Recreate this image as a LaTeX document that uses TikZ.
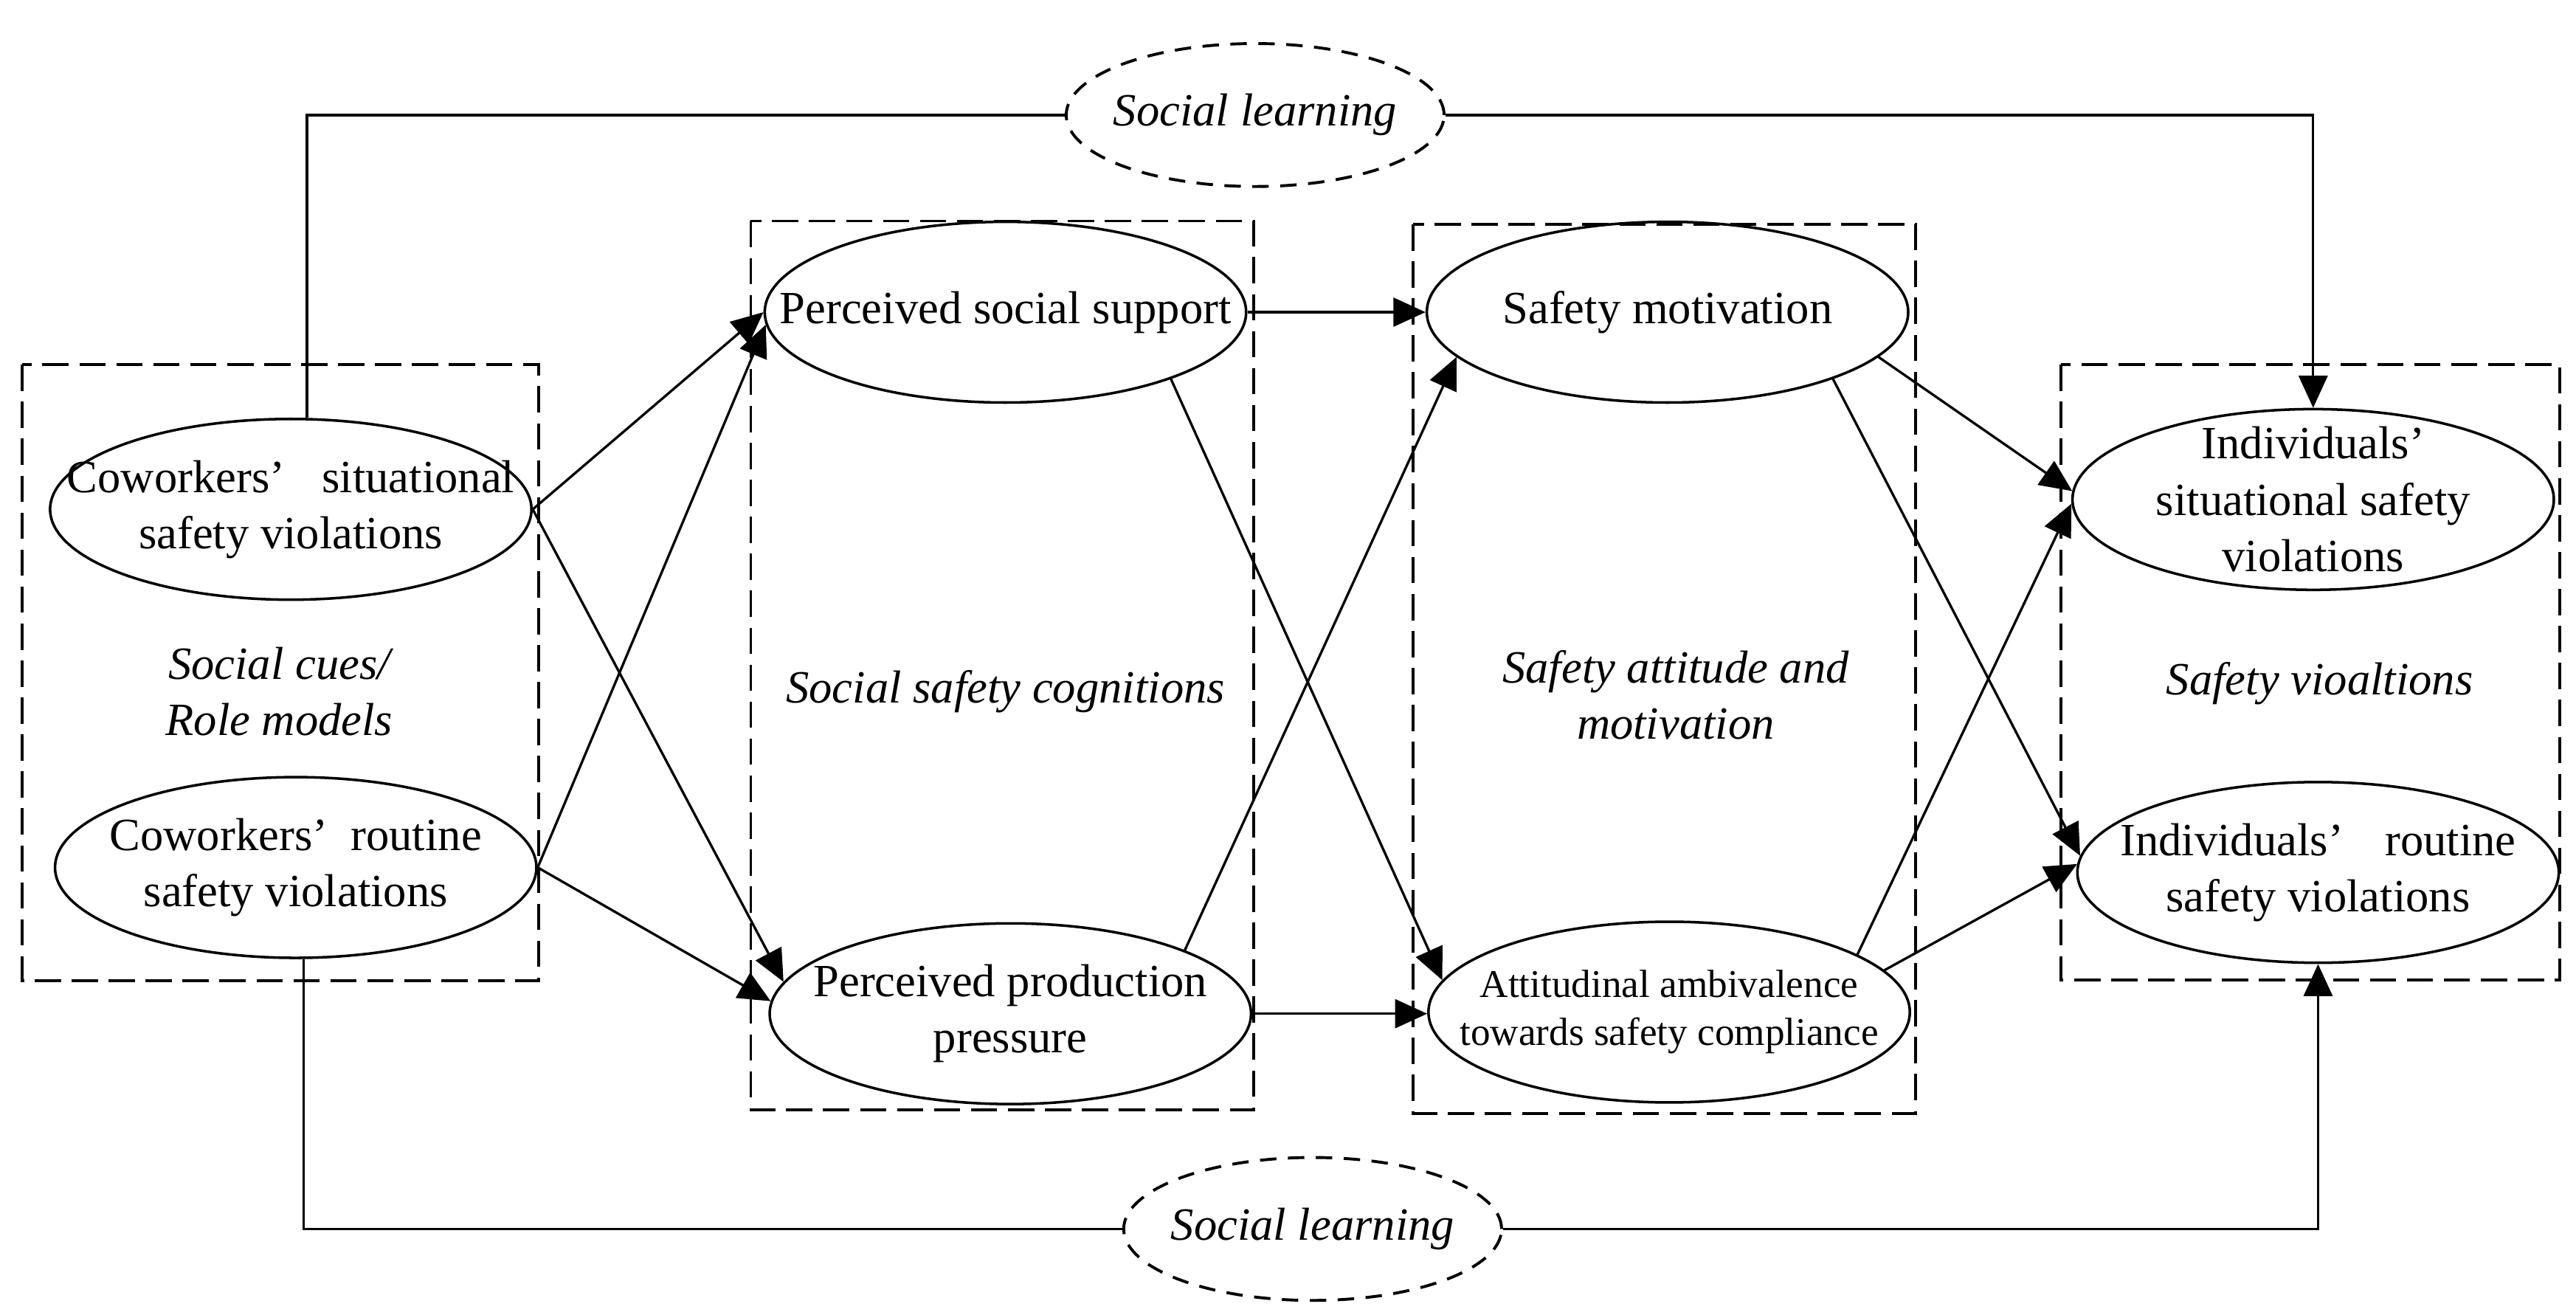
\documentclass[tikz,border=0pt]{standalone}
\usepackage{fontspec}
\setmainfont{Liberation Serif}
\usetikzlibrary{arrows.meta, shapes.geometric}

\tikzset{
  var/.style={draw, ellipse, line width=0.9pt, minimum width=58.6mm,
              minimum height=22mm, inner sep=0pt},
  learn/.style={draw, ellipse, line width=1pt, dash pattern=on 2mm off 1.4mm,
                minimum width=46mm, minimum height=17.4mm, inner sep=0pt},
  vartext/.style={align=center, font=\fontsize{16}{19.5}\selectfont},
  grouptext/.style={align=center, font=\fontsize{16}{19.5}\selectfont\itshape},
  group/.style={draw, line width=1pt, dash pattern=on 3.2mm off 1.3mm},
  link/.style={line width=0.85pt}
}

\begin{document}
\begin{tikzpicture}[x=0.2mm, y=-0.2mm, >={Triangle[length=3.9mm,width=3.5mm]}]
  \useasboundingbox (0,0) rectangle (1568,800);

  % dashed groups
  \draw[group] (13.6,222) rectangle (327.7,597);
  \draw[group] (457,134.5) rectangle (763,675.5);
  \draw[group] (860,136.5) rectangle (1166,677.6);
  \draw[group] (1254.5,222) rectangle (1558,596.5);
  \node[grouptext] (g1) at (170,421) {Social cues/\\Role models};
  \node[grouptext] (g2) at (612,421) {Social safety cognitions};
  \node[grouptext] (g3) at (1020,423) {Safety attitude and\\motivation};
  \node[grouptext] (g4) at (1412,416) {Safety vioaltions};

  % variables
  \node[var] (cs)  at (177,310)  {};
  \node[var] (cr)  at (180,528)  {};
  \node[var] (pss) at (612,190)  {};
  \node[var] (ppp) at (615,617)  {};
  \node[var] (sm)  at (1015,190) {};
  \node[var] (aa)  at (1016,616) {};
  \node[var] (is)  at (1408,304) {};
  \node[var] (ir)  at (1411,531) {};
  \node[vartext] (cs-t)  at (cs)  {Coworkers’\hspace{0.8em}situational\\safety violations};
  \node[vartext] (cr-t)  at (cr)  {Coworkers’\hspace{0.5em}routine\\safety violations};
  \node[vartext] (pss-t) at (pss) {Perceived social support};
  \node[vartext] (ppp-t) at (ppp) {Perceived production\\pressure};
  \node[vartext] (sm-t)  at (sm)  {Safety motivation};
  \node[align=center, font=\fontsize{13.6}{16.6}\selectfont] (aa-t) at (aa)
       {Attitudinal ambivalence\\towards safety compliance};
  \node[vartext] (is-t)  at (is)  {Individuals’\\situational safety\\violations};
  \node[vartext] (ir-t)  at (ir)  {Individuals’\hspace{0.9em}routine\\safety violations};

  % social learning
  \node[learn] (sltop) at (764,70)  {};
  \node[learn] (slbot) at (799,748) {};
  \node[grouptext] (sltop-t) at (sltop) {Social learning};
  \node[grouptext] (slbot-t) at (slbot) {Social learning};
  \draw[link] (cs.80) |- (sltop.west);
  \draw[link,->] (sltop.east) -| (is.north);
  \draw[link] (cr.-85) |- (slbot.west);
  \draw[link,->] (slbot.east) -| (ir.south);

  % paths
  \draw[link,->] (cs.east) -- (pss.west);
  \draw[link,->] (cs.east) -- (ppp.172);
  \draw[link,->] (cr.east) -- (pss.183);
  \draw[link,->] (cr.east) -- (ppp.177);
  \draw[link,->] (pss) -- (sm);
  \draw[link,->] (pss.338) -- (aa.172);
  \draw[link,->] (ppp.20) -- (sm.192);
  \draw[link,->] (ppp.east) -- (ppp.east -| aa.west);
  \draw[link,->] (sm.348) -- (is.178);
  \draw[link,->] (sm.338) -- (ir.176);
  \draw[link,->] (aa.17) -- (is.181);
  \draw[link,->] (aa.11) -- (ir.178);
\end{tikzpicture}
\end{document}
